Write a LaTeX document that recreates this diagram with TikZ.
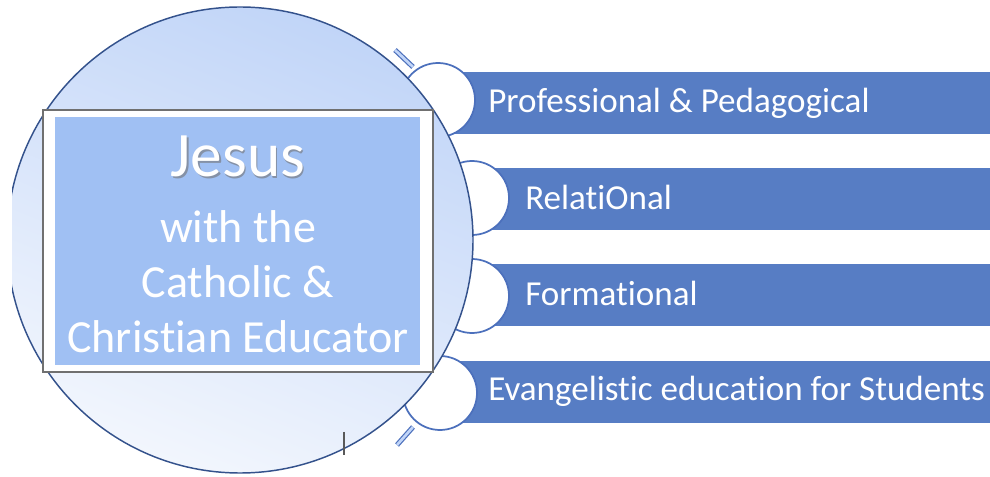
\documentclass[tikz,border=0pt]{standalone}
\usepackage{fontspec}
\setmainfont[Ligatures = NoCommon]{Carlito}

\definecolor{barblue}{RGB}{87,125,196}
\definecolor{ringblue}{RGB}{76,112,188}
\definecolor{edgeblue}{RGB}{52,82,140}
\definecolor{discblue}{RGB}{193,213,248}
\definecolor{discpale}{RGB}{242,246,253}
\definecolor{panelblue}{RGB}{160,192,243}
\definecolor{framegray}{RGB}{112,112,112}

\begin{document}
\begin{tikzpicture}[x = 0.75pt, y = -0.75pt,
	bullet/.style = {circle, draw = ringblue, fill = white, line width = 1.3pt, minimum size = 55.5pt, inner sep = 0pt},
	arctick/.style = {draw = ringblue, double = discblue, double distance = 2pt, line width = 0.9pt},
	bartext/.style = {anchor = base west, inner sep = 0pt, text = white, font = \fontsize{26.3}{31}\selectfont},
	centretext/.style = {anchor = base, inner sep = 0pt, text = white, font = \fontsize{34.5}{40}\selectfont},
	titletext/.style = {centretext, font = \fontsize{47.5}{54}\selectfont}]

	% Definitions

	\def\cx{240}	% Disc centre x
	\def\cy{240}	% Disc centre y
	\def\R{233}		% Disc radius

	\useasboundingbox (0, 0) rectangle (990, 477);

	% Arc ticks behind the disc

	\draw [arctick] (395, 50) -- (413, 67);
	\draw [arctick] (397, 445) -- (413, 427);

	% Bars

	\foreach \n/\y in {1/72, 2/168, 3/264, 4/361}
		\fill [barblue] (440, \y) rectangle (990, {\y + 62});

	% Bullet circles

	\foreach \n/\x/\y in {1/438/100, 2/472/198, 3/472/296, 4/440/393}
		\node [bullet] (b\n) at (\x, \y) {};

	% Disc

	\begin{scope}
		\clip (12, 0) rectangle (990, 477);
		\shade [top color = discblue, bottom color = discpale, shading angle = -22] (\cx, \cy) circle (\R);
		\draw [edgeblue, line width = 1.1pt] (\cx, \cy) circle (\R);
	\end{scope}

	% Panel

	\node [draw = framegray, fill = white, line width = 1.4pt, minimum width = 292.5pt, minimum height = 197pt] (panel) at (238, 241) {};
	\node [fill = panelblue, minimum width = 273.75pt, minimum height = 186pt, inner sep = 0pt] (inner) at (237.5, 241) {};

	% Centre text

	\node [titletext, text = black!55, opacity = 0.6] (jesusshadow) at (239.5, 179) {Jesus};
	\node [titletext] (jesus) at (238, 177) {Jesus};
	\node [centretext] (with) at (238, 243) {with the};
	\node [centretext] (catholic) at (238, 298) {Catholic \&};
	\node [centretext] (educator) at (238, 353) {Christian Educator};

	% Bar labels

	\node [bartext] (l1) at (488, 113) {Professional \& Pedagogical};
	\node [bartext] (l2) at (525, 210) {RelatiOnal};
	\node [bartext] (l3) at (525, 306) {Formational};
	\node [bartext] (l4) at (488, 401) {Evangelistic education for Students};

	% Stray mark

	\draw [black!65, line width = 0.9pt] (344, 432) -- (344, 455);

\end{tikzpicture}
\end{document}
